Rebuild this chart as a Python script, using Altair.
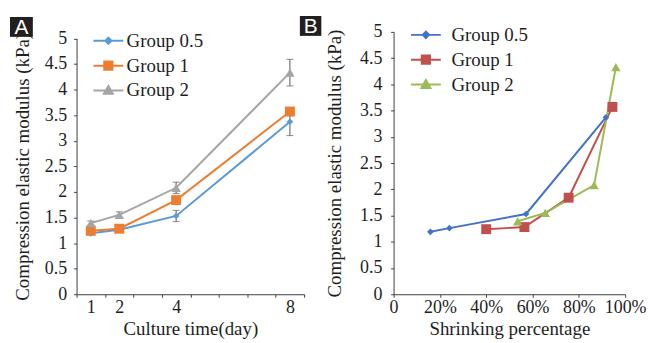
import altair as alt
import pandas as pd

# ---- data ----
groups = ["Group 0.5", "Group 1", "Group 2"]
days = [1, 2, 4, 8]
modulus_g05 = [1.19, 1.26, 1.53, 3.37]
modulus_g1 = [1.24, 1.28, 1.84, 3.57]
modulus_g2 = [1.39, 1.55, 2.08, 4.33]
err_g05 = [0.03, 0.03, 0.11, 0.27]
err_g1 = [0.03, 0.03, 0.05, 0.08]
err_g2 = [0.04, 0.06, 0.11, 0.26]
shrink_g05 = [0.159, 0.241, 0.572, 0.917]
shrink_g1 = [0.400, 0.565, 0.756, 0.945]
shrink_g2 = [0.536, 0.655, 0.866, 0.960]
day_ticks = [0.5, 1, 1.5, 2, 2.5, 3, 3.5, 4, 4.5, 5, 5.5, 6, 6.5, 7, 7.5, 8, 8.5]
shrink_ticks = [0, 0.2, 0.4, 0.6, 0.8, 1.0]
modulus_ticks = [0, 0.5, 1, 1.5, 2, 2.5, 3, 3.5, 4, 4.5, 5]
panel_labels = ["A", "B"]

colors_a = ["#5B9BD5", "#ED7D31", "#A5A5A5"]
colors_b = ["#4472C4", "#C0504D", "#9BBB59"]
marker_shapes = ["diamond", "square", "triangle-up"]
marker_sizes = [45, 100, 90]
legend_paths = [
    "M-2,0L2,0M-0.42,0L0,-0.42L0.42,0L0,0.42Z",
    "M-2,0L2,0M-0.55,-0.55L0.55,-0.55L0.55,0.55L-0.55,0.55Z",
    "M-2,0L2,0M0,-0.6L0.6,0.45L-0.6,0.45Z",
]

rows = []
for g, mods, errs, shr in zip(groups, [modulus_g05, modulus_g1, modulus_g2],
                              [err_g05, err_g1, err_g2],
                              [shrink_g05, shrink_g1, shrink_g2]):
    for d, m, e, s in zip(days, mods, errs, shr):
        rows.append(dict(group=g, day=d, modulus=m, lo=m - e, hi=m + e, shrink=s))
df = pd.DataFrame(rows)

FONT = "Liberation Serif"
TXT = "#1e1e1e"
AX = "#404040"


def common_axis(**kw):
    base = dict(grid=False, domainColor=AX, tickColor=AX, tickSize=3,
                labelFont=FONT, labelFontSize=18, labelColor=TXT,
                titleFont=FONT, titleFontSize=19, titleFontWeight="normal",
                titleColor=TXT, labelOverlap=False, labelFlush=False)
    base.update(kw)
    return alt.Axis(**base)


def make_panel(xfield, xscale, xaxis, colors, width, yrange, ylabpad, ytitlepad,
               leg_x, leg_y, leg_off, with_err, boxes):
    X = lambda f=xfield: alt.X(f"{f}:Q", scale=xscale, axis=xaxis)
    Y = lambda f="modulus": alt.Y(f"{f}:Q",
                                  scale=alt.Scale(domain=[0, 5], range=yrange, nice=False),
                                  axis=common_axis(title="Compression elastic modulus (kPa)",
                                                   values=modulus_ticks, format="~g",
                                                   labelPadding=ylabpad,
                                                   titlePadding=ytitlepad))
    cscale = alt.Scale(domain=groups, range=colors)
    layers = []
    for g, col in zip(groups, colors):
        layers.append(alt.Chart(df).transform_filter(alt.datum.group == g).mark_line(
            strokeWidth=2, color=col).encode(x=X(), y=Y()))
    if with_err:
        layers.append(alt.Chart(df).mark_rule(color="#595959", strokeWidth=1).encode(
            x=X(), y=Y("lo"), y2="hi:Q"))
        for f in ["lo", "hi"]:
            layers.append(alt.Chart(df).mark_tick(color="#595959", thickness=1, size=7,
                                                  orient="horizontal").encode(x=X(), y=Y(f)))
    for g, col, shp, sz in zip(groups, colors, marker_shapes, marker_sizes):
        layers.append(alt.Chart(df).transform_filter(alt.datum.group == g).mark_point(
            filled=True, opacity=1, shape=shp, size=sz, color=col).encode(x=X(), y=Y()))
    leg = alt.Legend(title=None, orient="none", legendX=leg_x, legendY=leg_y,
                     labelFont=FONT, labelFontSize=19, labelColor=TXT,
                     symbolSize=225, symbolStrokeWidth=2, labelOffset=leg_off,
                     rowPadding=5, padding=0, labelLimit=300, symbolOpacity=1)
    # legend layer: zero-size points, so only its legend is visible
    layers.append(alt.Chart(df).mark_point(
        filled=True, opacity=1, size=0, strokeWidth=2).encode(
        x=X(), y=Y(),
        fill=alt.Fill("group:N", scale=cscale, legend=leg),
        stroke=alt.Stroke("group:N", scale=cscale, legend=leg),
        shape=alt.Shape("group:N", scale=alt.Scale(domain=groups, range=legend_paths), legend=leg)))
    for lab, (x0, x1, y0, y1) in boxes:
        bdf = pd.DataFrame({"label": [lab]})
        layers.append(alt.Chart(bdf).mark_rect(color="#231F20").encode(
            x=alt.value(x0), x2=alt.value(x1), y=alt.value(y0), y2=alt.value(y1)))
        layers.append(alt.Chart(bdf).mark_text(color="white", font="Liberation Sans",
                                               fontSize=21, align="center",
                                               baseline="middle").encode(
            x=alt.value((x0 + x1) / 2), y=alt.value((y0 + y1) / 2 + 1), text="label:N"))
    return alt.layer(*layers).properties(width=width, height=264)


label_expr_a = "indexof([" + ",".join(str(d) for d in days) + "], datum.value) >= 0 ? format(datum.value, '~g') : ''"
xaxis_a = common_axis(title="Culture time(day)", values=day_ticks, labelExpr=label_expr_a,
                      tickOpacity={"condition": {"test": "datum.value % 1 == 0", "value": 0}, "value": 1},
                      labelPadding=1, titlePadding=4)
xaxis_b = common_axis(title="Shrinking percentage", values=shrink_ticks,
                      labelExpr="datum.value == 0 ? '0' : format(datum.value, '.0%')",
                      labelPadding=1, titlePadding=4)

panel_a = make_panel("day", alt.Scale(domain=[0.5, 8.5], nice=False, zero=False), xaxis_a,
                     colors_a, 229, [264, 6.5], 7, 12, 22.5, -0.5, 8.8, True,
                     [(panel_labels[0], (-67, -44, -15, 5)),
                      (panel_labels[1], (224.7, 246.3, -16, 4))])
panel_b = make_panel("shrink", alt.Scale(domain=[0, 1], nice=False), xaxis_b,
                     colors_b, 233, [264, 0], 8.8, 15, 23, -6.5, 16.2, False, [])

chart = alt.hconcat(panel_a, panel_b, spacing=3).resolve_scale(
    fill="independent", stroke="independent", shape="independent"
).resolve_legend(
    fill="independent", stroke="independent", shape="independent"
).properties(
    padding={"left": 2, "top": 7, "right": 0, "bottom": 0}
).configure_view(stroke=None)

chart.save("out.html", embed_options={"renderer": "svg", "actions": False})
